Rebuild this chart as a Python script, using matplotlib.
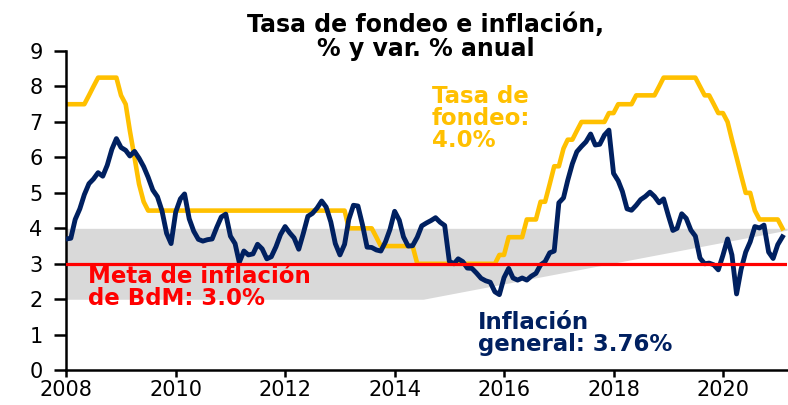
import matplotlib
matplotlib.use("Agg")
import matplotlib.pyplot as plt
import matplotlib.dates as mdates
import pandas as pd

# monthly, Jan 2008 - Feb 2021
months = pd.date_range("2008-01-01", "2021-02-01", freq="MS")

tasa_fondeo = [
    7.5, 7.5, 7.5, 7.5, 7.5, 7.75, 8.0, 8.25, 8.25, 8.25, 8.25, 8.25,   # 2008
    7.75, 7.5, 6.75, 6.0, 5.25, 4.75, 4.5, 4.5, 4.5, 4.5, 4.5, 4.5,     # 2009
    4.5, 4.5, 4.5, 4.5, 4.5, 4.5, 4.5, 4.5, 4.5, 4.5, 4.5, 4.5,         # 2010
    4.5, 4.5, 4.5, 4.5, 4.5, 4.5, 4.5, 4.5, 4.5, 4.5, 4.5, 4.5,         # 2011
    4.5, 4.5, 4.5, 4.5, 4.5, 4.5, 4.5, 4.5, 4.5, 4.5, 4.5, 4.5,         # 2012
    4.5, 4.5, 4.0, 4.0, 4.0, 4.0, 4.0, 4.0, 3.75, 3.5, 3.5, 3.5,        # 2013
    3.5, 3.5, 3.5, 3.5, 3.5, 3.0, 3.0, 3.0, 3.0, 3.0, 3.0, 3.0,         # 2014
    3.0, 3.0, 3.0, 3.0, 3.0, 3.0, 3.0, 3.0, 3.0, 3.0, 3.0, 3.25,        # 2015
    3.25, 3.75, 3.75, 3.75, 3.75, 4.25, 4.25, 4.25, 4.75, 4.75, 5.25, 5.75,  # 2016
    5.75, 6.25, 6.5, 6.5, 6.75, 7.0, 7.0, 7.0, 7.0, 7.0, 7.0, 7.25,     # 2017
    7.25, 7.5, 7.5, 7.5, 7.5, 7.75, 7.75, 7.75, 7.75, 7.75, 8.0, 8.25,  # 2018
    8.25, 8.25, 8.25, 8.25, 8.25, 8.25, 8.25, 8.0, 7.75, 7.75, 7.5, 7.25,  # 2019
    7.25, 7.0, 6.5, 6.0, 5.5, 5.0, 5.0, 4.5, 4.25, 4.25, 4.25, 4.25,    # 2020
    4.25, 4.0,                                                          # 2021
]

inflacion = [
    3.70, 3.72, 4.25, 4.55, 4.95, 5.26, 5.39, 5.57, 5.47, 5.78, 6.23, 6.53,  # 2008
    6.28, 6.20, 6.04, 6.17, 5.98, 5.74, 5.44, 5.08, 4.89, 4.50, 3.86, 3.57,  # 2009
    4.46, 4.83, 4.97, 4.27, 3.92, 3.69, 3.64, 3.68, 3.70, 4.02, 4.32, 4.40,  # 2010
    3.78, 3.57, 3.04, 3.36, 3.25, 3.28, 3.55, 3.42, 3.14, 3.20, 3.48, 3.82,  # 2011
    4.05, 3.87, 3.73, 3.41, 3.85, 4.34, 4.42, 4.57, 4.77, 4.60, 4.18, 3.57,  # 2012
    3.25, 3.55, 4.25, 4.65, 4.63, 4.09, 3.47, 3.46, 3.39, 3.36, 3.62, 3.97,  # 2013
    4.48, 4.23, 3.76, 3.50, 3.51, 3.75, 4.07, 4.15, 4.22, 4.30, 4.17, 4.08,  # 2014
    3.07, 3.00, 3.14, 3.06, 2.88, 2.87, 2.74, 2.59, 2.52, 2.48, 2.21, 2.13,  # 2015
    2.61, 2.87, 2.60, 2.54, 2.60, 2.54, 2.65, 2.73, 2.97, 3.06, 3.31, 3.36,  # 2016
    4.72, 4.86, 5.35, 5.82, 6.16, 6.31, 6.44, 6.66, 6.35, 6.37, 6.63, 6.77,  # 2017
    5.55, 5.34, 5.04, 4.55, 4.51, 4.65, 4.81, 4.90, 5.02, 4.90, 4.72, 4.83,  # 2018
    4.37, 3.94, 4.00, 4.41, 4.28, 3.95, 3.78, 3.16, 3.00, 3.02, 2.97, 2.83,  # 2019
    3.24, 3.70, 3.25, 2.15, 2.84, 3.33, 3.62, 4.05, 4.01, 4.09, 3.33, 3.15,  # 2020
    3.54, 3.76,                                                              # 2021
]

meta = 3.0
# target range band: lower edge starts rising mid-2014
banda_fechas = pd.to_datetime(["2008-01-01", "2014-07-10", "2021-03-05"])
banda_inf = [2.0, 2.0, 3.95]
banda_sup = [4.0, 4.0, 4.0]

gold = "#FFC000"
navy = "#002060"
red = "#FF0000"

fig = plt.figure(figsize=(7.88, 4.05), dpi=100)
ax = fig.add_axes([0.084, 0.086, 0.915, 0.788])

ax.fill_between(banda_fechas, banda_inf, banda_sup, color="#D9D9D9", lw=0, zorder=1)
ax.axhline(meta, color=red, lw=2.3, zorder=4)
ax.plot(months, tasa_fondeo, color=gold, lw=3.3, zorder=2, solid_joinstyle="round")
ax.plot(months, inflacion, color=navy, lw=3.5, zorder=3, solid_joinstyle="round")

ax.set_ylim(0, 9)
ax.set_yticks(range(0, 10))
ax.set_xlim(pd.Timestamp("2008-01-01"), pd.Timestamp("2021-03-05"))
ax.xaxis.set_major_locator(mdates.YearLocator(2))
ax.xaxis.set_major_formatter(mdates.DateFormatter("%Y"))

for s in ["top", "right"]:
    ax.spines[s].set_visible(False)
for s in ["left", "bottom"]:
    ax.spines[s].set_linewidth(1.8)
    ax.spines[s].set_color("black")
ax.tick_params(axis="both", labelsize=15, width=1.8, colors="black")
ax.tick_params(axis="y", length=9, pad=8)
ax.tick_params(axis="x", length=5, pad=2)

fig.text(0.54, 0.968, "Tasa de fondeo e inflación,\n% y var. % anual",
         ha="center", va="top", fontsize=17, fontweight="bold", linespacing=0.95)

fig.text(0.548, 0.79, "Tasa de\nfondeo:\n4.0%", color=gold, fontsize=16.5,
         fontweight="bold", ha="left", va="top", linespacing=0.95)
fig.text(0.112, 0.345, "Meta de inflación\nde BdM: 3.0%", color=red, fontsize=16.5,
         fontweight="bold", ha="left", va="top", linespacing=0.95)
fig.text(0.606, 0.232, "Inflación\ngeneral: 3.76%", color=navy, fontsize=16.5,
         fontweight="bold", ha="left", va="top", linespacing=0.95)

plt.savefig("out.png", dpi=100)
